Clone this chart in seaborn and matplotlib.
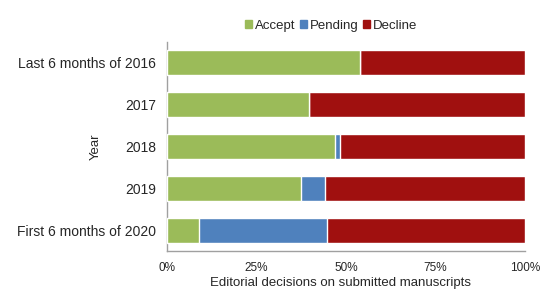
import matplotlib
matplotlib.use("Agg")
import matplotlib.pyplot as plt
import seaborn as sns
import pandas as pd
import numpy as np

categories = ["Last 6 months of 2016", "2017", "2018", "2019", "First 6 months of 2020"]
accept = [54.0, 39.7, 46.8, 37.4, 9.0]
pending = [0.0, 0.0, 1.6, 6.8, 35.7]
decline = [100 - a - p for a, p in zip(accept, pending)]
series = ["Accept", "Pending", "Decline"]
colors = ["#9BBB59", "#4F81BD", "#A0100F"]
xticks = [0, 25, 50, 75, 100]
xticklabels = ["0%", "25%", "50%", "75%", "100%"]

sns.set_theme(style="white")
plt.rcParams["font.family"] = ["Liberation Sans", "DejaVu Sans"]

fig = plt.figure(figsize=(5.59, 3.02), dpi=100)
ax = fig.add_axes([167/559, 1 - 251/302, 358/559, 209/302])

df = pd.DataFrame({"Year": categories, "Accept": accept, "Pending": pending, "Decline": decline})
left = np.zeros(len(categories))
for name, col in zip(series, colors):
    d = df.copy()
    d["end"] = left + d[name]
    sns.barplot(data=d, y="Year", x="end", color=col, orient="h", width=0.6,
                ax=ax, label=name, saturation=1, zorder=3 - series.index(name))
    left = left + d[name].values

ax.set_xlim(0, 100)
ax.set_ylim(4.5, -0.5)
ax.set_xticks(xticks)
ax.set_xticklabels(xticklabels, fontsize=8.5)
ax.tick_params(axis="y", labelsize=10, pad=8, length=0)
ax.tick_params(axis="x", pad=8, length=0)
ax.set_xlabel("Editorial decisions on submitted manuscripts", fontsize=9.5)
ax.set_ylabel("Year", fontsize=9.5)
ax.xaxis.set_label_coords((340 - 167) / 358, -(283 - 251) / 209, transform=ax.transAxes)
ax.yaxis.set_label_coords((96 - 167) / 358, 0.5)
ax.xaxis.label.set_va("center")
ax.yaxis.label.set_va("center")
for s in ["top", "right"]:
    ax.spines[s].set_visible(False)
for s in ["left", "bottom"]:
    ax.spines[s].set_color("#A0A0A0")
    ax.spines[s].set_linewidth(1)

handles = [plt.Rectangle((0, 0), 1, 1, color=c) for c in colors]
fig.legend(handles, series, loc="center", bbox_to_anchor=(331/559, 1 - 26/302), ncol=3,
           frameon=False, fontsize=9.5, handlelength=0.55, handleheight=0.55,
           handletextpad=0.2, columnspacing=0.35)
if ax.get_legend():
    ax.get_legend().remove()

fig.savefig("out.png", dpi=100)
